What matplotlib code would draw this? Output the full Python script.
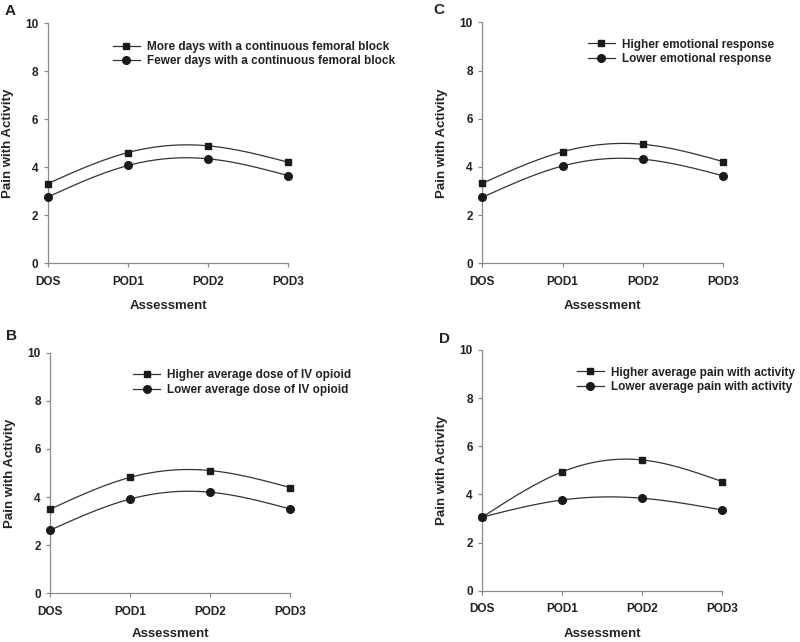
import numpy as np
import matplotlib
matplotlib.use('Agg')
import matplotlib.pyplot as plt
from matplotlib.lines import Line2D

plt.rcParams['font.family'] = ['Liberation Sans', 'DejaVu Sans']
plt.rcParams['font.weight'] = 'bold'

timepoints = ['DOS', 'POD1', 'POD2', 'POD3']

a_high = [3.32, 4.61, 4.89, 4.21]
a_low = [2.76, 4.07, 4.35, 3.65]
a_labels = ['More days with a continuous femoral block',
            'Fewer days with a continuous femoral block']

b_high = [3.50, 4.82, 5.10, 4.39]
b_low = [2.63, 3.92, 4.20, 3.50]
b_labels = ['Higher average dose of IV opioid',
            'Lower average dose of IV opioid']

c_high = [3.32, 4.63, 4.94, 4.22]
c_low = [2.74, 4.04, 4.32, 3.63]
c_labels = ['Higher emotional response', 'Lower emotional response']

d_high = [3.06, 4.94, 5.43, 4.53]
d_low = [3.06, 3.77, 3.84, 3.35]
d_labels = ['Higher average pain with activity',
            'Lower average pain with activity']

line_col = '#333333'
mark_col = '#1a1a1a'
spine_col = '#8a8a8a'
text_col = '#222222'


def natural_spline(y, n=200):
    # natural cubic spline through equally spaced points (like SigmaPlot's spline curve)
    y = np.asarray(y, dtype=float)
    k = len(y)
    A = np.zeros((k, k))
    r = np.zeros(k)
    A[0, 0] = A[-1, -1] = 1.0
    for i in range(1, k - 1):
        A[i, i - 1], A[i, i], A[i, i + 1] = 1.0, 4.0, 1.0
        r[i] = 6.0 * (y[i - 1] - 2 * y[i] + y[i + 1])
    m = np.linalg.solve(A, r)
    xs = np.linspace(0, k - 1, n)
    idx = np.clip(np.floor(xs).astype(int), 0, k - 2)
    t = xs - idx
    ys = ((1 - t) * y[idx] + t * y[idx + 1]
          + ((1 - t) ** 3 - (1 - t)) * m[idx] / 6.0
          + (t ** 3 - t) * m[idx + 1] / 6.0)
    return xs, ys


def panel(rect, letter, letter_xy, high, low, labels, leg_x, leg_y, xpad=9):
    ax = fig.add_axes(rect)
    x = np.arange(len(timepoints))
    for vals, mk, ms in ((high, 's', 5.0), (low, 'o', 5.5)):
        xs, ys = natural_spline(vals)
        ax.plot(xs, ys, color=line_col, lw=0.9, zorder=2, clip_on=False)
        ax.plot(x, vals, linestyle='none', marker=mk, ms=ms, color=mark_col,
                zorder=3, clip_on=False)
    ax.set_xlim(0, 3)
    ax.set_ylim(0, 10)
    ax.set_xticks(x)
    ax.set_xticklabels(timepoints)
    ax.set_yticks([0, 2, 4, 6, 8, 10])
    for s in ('top', 'right'):
        ax.spines[s].set_visible(False)
    for s in ('left', 'bottom'):
        ax.spines[s].set_color(spine_col)
        ax.spines[s].set_linewidth(0.9)
    ax.tick_params(direction='out', length=3, width=0.9, color=spine_col,
                   labelsize=8.5, labelcolor=text_col, pad=4)
    ax.tick_params(axis='x', pad=6)
    for lab in ax.get_xticklabels() + ax.get_yticklabels():
        lab.set_fontweight('bold')
    ax.set_xlabel('Assessment', fontsize=9.5, fontweight='bold', color=text_col, labelpad=xpad)
    ax.set_ylabel('Pain with Activity', fontsize=9.5, fontweight='bold', color=text_col, labelpad=8)
    handles = [Line2D([], [], color=line_col, lw=0.9, marker='s', ms=5.0,
                      markerfacecolor=mark_col, markeredgecolor=mark_col),
               Line2D([], [], color=line_col, lw=0.9, marker='o', ms=5.5,
                      markerfacecolor=mark_col, markeredgecolor=mark_col)]
    leg = ax.legend(handles, labels, loc='upper left', bbox_to_anchor=(leg_x, leg_y),
                    frameon=False, fontsize=8.5, borderpad=0, borderaxespad=0,
                    handlelength=2.3, handletextpad=0.6, labelspacing=0.2)
    for t in leg.get_texts():
        t.set_fontweight('bold')
        t.set_color(text_col)
    fig.text(letter_xy[0] / 800, 1 - letter_xy[1] / 642, letter, fontsize=11,
             fontweight='bold', color=text_col, va='center', ha='left')
    return ax


fig = plt.figure(figsize=(8, 6.42), dpi=100)

panel([0.060, 0.590, 0.300, 0.374], 'A', (5, 11), a_high, a_low, a_labels, 0.27, 0.927)
panel([0.603, 0.590, 0.301, 0.375], 'C', (433, 10), c_high, c_low, c_labels, 0.438, 0.933)
panel([0.063, 0.0758, 0.300, 0.375], 'B', (6, 336), b_high, b_low, b_labels, 0.344, 0.930, xpad=7)
panel([0.603, 0.0799, 0.300, 0.375], 'D', (439, 339), d_high, d_low, d_labels, 0.393, 0.931)

fig.savefig('out.png', dpi=100)
